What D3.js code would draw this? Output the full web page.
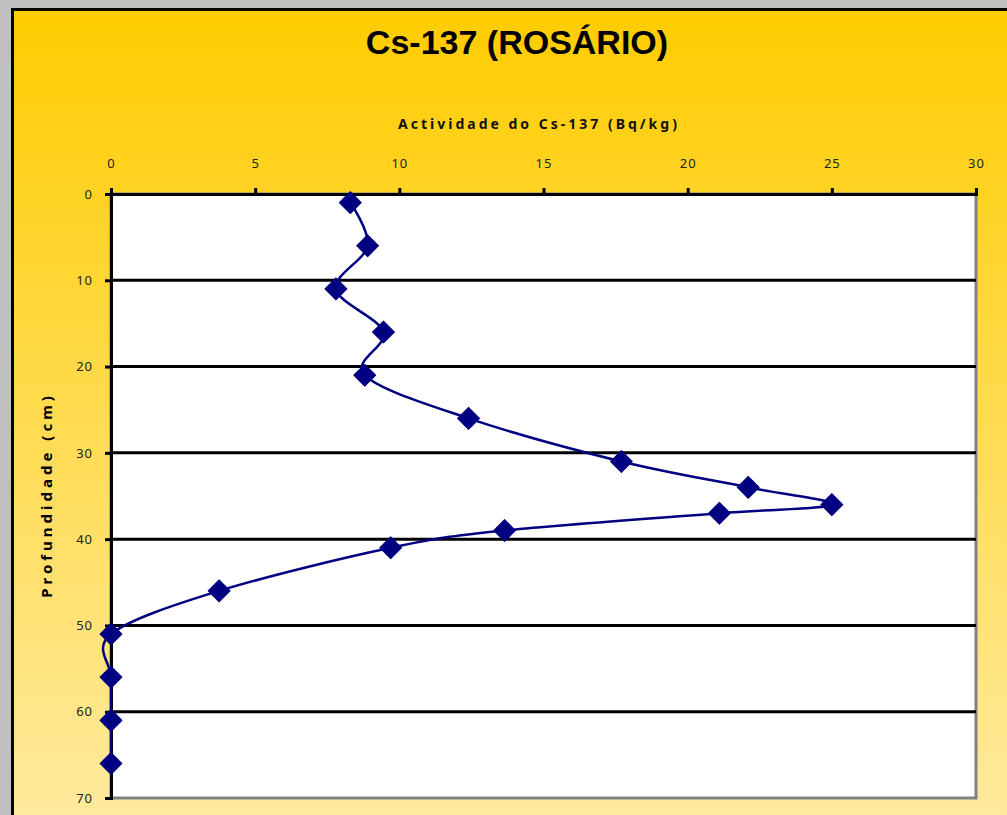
<!DOCTYPE html>
<html>
<head>
<meta charset="utf-8">
<script src="https://cdn.jsdelivr.net/npm/d3@7"></script>
<style>
  html, body { margin: 0; padding: 0; background: #c0c0c0; }
  svg { display: block; }
</style>
</head>
<body>
<script>
// Cs-137 activity profile against depth
const depths = [1, 6, 11, 16, 21, 26, 31, 34, 36, 37, 39, 41, 46, 51, 56, 61, 66];
const activity = [8.3, 8.9, 7.8, 9.45, 8.8, 12.4, 17.7, 22.1, 25.0, 21.1, 13.65, 9.7, 3.75, 0, 0, 0, 0];
const xTicks = [0, 5, 10, 15, 20, 25, 30];
const yTicks = [0, 10, 20, 30, 40, 50, 60, 70];
const titleText = "Cs-137 (ROSÁRIO)";
const xTitleText = "Actividade do Cs-137 (Bq/kg)";
const yTitleText = "Profundidade (cm)";

const W = 1007, H = 815;
const svg = d3.select("body").append("svg").attr("width", W).attr("height", H);

const defs = svg.append("defs");
const grad = defs.append("linearGradient").attr("id", "bg").attr("x1", 0).attr("y1", 0).attr("x2", 0).attr("y2", 1);
grad.append("stop").attr("offset", "0%").attr("stop-color", "#ffcc00");
grad.append("stop").attr("offset", "100%").attr("stop-color", "#ffeba3");

// chart frame
svg.append("rect").attr("x", 12.5).attr("y", 9.5).attr("width", W + 20).attr("height", H + 20)
  .attr("fill", "url(#bg)").attr("stroke", "#000").attr("stroke-width", 3);

const plot = { left: 111, top: 194, right: 976, bottom: 798 };
const x = d3.scaleLinear().domain([0, 30]).range([plot.left, plot.right]);
const y = d3.scaleLinear().domain([0, 70]).range([plot.top, plot.bottom]);

// plot area
svg.append("rect").attr("x", plot.left).attr("y", plot.top)
  .attr("width", plot.right - plot.left).attr("height", plot.bottom - plot.top)
  .attr("fill", "#fff").attr("stroke", "#808080").attr("stroke-width", 3);

// horizontal gridlines
svg.append("g").selectAll("line").data(yTicks.filter(t => t > 0 && t < 70)).join("line")
  .attr("x1", plot.left).attr("x2", plot.right)
  .attr("y1", d => y(d)).attr("y2", d => y(d))
  .attr("stroke", "#000").attr("stroke-width", 3);

const font = "'Noto Sans', 'DejaVu Sans', sans-serif";

// top x axis
const xAxis = svg.append("g").attr("transform", `translate(0,${plot.top})`)
  .call(d3.axisTop(x).tickValues(xTicks).tickSize(6).tickPadding(20));
xAxis.select(".domain").attr("stroke", "#000").attr("stroke-width", 3);
xAxis.selectAll(".tick line").attr("stroke", "#000").attr("stroke-width", 3);
xAxis.selectAll(".tick text").attr("font-family", font).attr("font-size", 13)
  .attr("fill", "#222").attr("letter-spacing", "1px");

// left y axis
const yAxis = svg.append("g").attr("transform", `translate(${plot.left},0)`)
  .call(d3.axisLeft(y).tickValues(yTicks).tickSize(6).tickPadding(12));
yAxis.select(".domain").attr("stroke", "#000").attr("stroke-width", 3);
yAxis.selectAll(".tick line").attr("stroke", "#000").attr("stroke-width", 3);
yAxis.selectAll(".tick text").attr("font-family", font).attr("font-size", 13)
  .attr("fill", "#222").attr("letter-spacing", "1px");

// titles
svg.append("text").attr("x", 517).attr("y", 54).attr("text-anchor", "middle")
  .attr("font-family", "'Liberation Sans', Arial, sans-serif").attr("font-weight", "bold")
  .attr("font-size", 34).attr("fill", "#000").text(titleText);

svg.append("text").attr("x", 539).attr("y", 129).attr("text-anchor", "middle")
  .attr("font-family", font).attr("font-weight", "bold")
  .attr("font-size", 14).attr("letter-spacing", "3px").attr("fill", "#111").text(xTitleText);

svg.append("text").attr("transform", "translate(52,495) rotate(-90)").attr("text-anchor", "middle")
  .attr("font-family", font).attr("font-weight", "bold")
  .attr("font-size", 15).attr("letter-spacing", "4px").attr("fill", "#000").text(yTitleText);

// smoothed profile line
const pts = depths.map((d, i) => [activity[i], d]);
const line = d3.line().x(d => x(d[0])).y(d => y(d[1])).curve(d3.curveCardinal.tension(0));
svg.append("path").datum(pts).attr("d", line)
  .attr("fill", "none").attr("stroke", "#000080").attr("stroke-width", 2.5);

// diamond markers
const diamond = d3.symbol().type(d3.symbolSquare).size(240);
svg.append("g").selectAll("path").data(pts).join("path")
  .attr("d", diamond)
  .attr("transform", d => `translate(${x(d[0])},${y(d[1])}) rotate(45)`)
  .attr("fill", "#000080").attr("stroke", "#000080").attr("stroke-width", 1).attr("stroke-linejoin", "round");
</script>
</body>
</html>
